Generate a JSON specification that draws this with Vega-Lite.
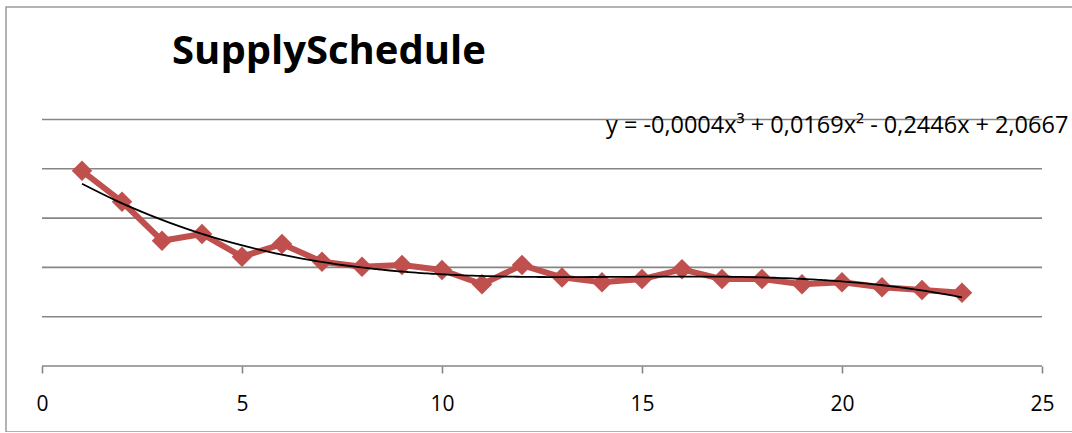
{
  "$schema": "https://vega.github.io/schema/vega-lite/v6.json",
  "width": 1070,
  "height": 425,
  "autosize": {"type": "none"},
  "padding": {"left": 6, "top": 7, "right": 0, "bottom": 0},
  "background": "white",
  "config": {
    "view": {"stroke": "#9a9a9a", "strokeWidth": 1.5},
    "axisY": {"disable": true}
  },
  "layer": [
    {
      "data": {"values": [{"level": 0}, {"level": 0.5}, {"level": 1}, {"level": 1.5}, {"level": 2}, {"level": 2.5}]},
      "mark": {"type": "rule", "color": "#868686", "strokeWidth": 1.6},
      "encoding": {
        "y": {"field": "level", "type": "quantitative", "scale": {"domain": [-0.669, 3.641], "nice": false, "zero": false}},
        "x": {"datum": 0, "type": "quantitative", "scale": {"domain": [-0.9, 25.85], "nice": false, "zero": false}},
        "x2": {"datum": 25}
      }
    },
    {
      "data": {"name": "main", "values": [
        {"x": 1, "y": 1.98},
        {"x": 2, "y": 1.666},
        {"x": 3, "y": 1.271},
        {"x": 4, "y": 1.339},
        {"x": 5, "y": 1.109},
        {"x": 6, "y": 1.237},
        {"x": 7, "y": 1.058},
        {"x": 8, "y": 1.007},
        {"x": 9, "y": 1.024},
        {"x": 10, "y": 0.974},
        {"x": 11, "y": 0.829},
        {"x": 12, "y": 1.024},
        {"x": 13, "y": 0.899},
        {"x": 14, "y": 0.849},
        {"x": 15, "y": 0.882},
        {"x": 16, "y": 0.981},
        {"x": 17, "y": 0.882},
        {"x": 18, "y": 0.882},
        {"x": 19, "y": 0.829},
        {"x": 20, "y": 0.849},
        {"x": 21, "y": 0.798},
        {"x": 22, "y": 0.771},
        {"x": 23, "y": 0.743}
      ]},
      "encoding": {
        "x": {
          "field": "x",
          "type": "quantitative",
          "axis": {
            "values": [0, 5, 10, 15, 20, 25],
            "title": null,
            "domain": false,
            "grid": false,
            "ticks": true,
            "tickSize": 7,
            "tickColor": "#868686",
            "tickWidth": 1.6,
            "offset": -66,
            "labelFont": "Open Sans",
            "labelFontSize": 21,
            "labelColor": "#000000",
            "labelPadding": 20,
            "labelFlush": false,
            "labelOverlap": false
          }
        },
        "y": {"field": "y", "type": "quantitative"}
      },
      "layer": [
        {"mark": {"type": "line", "color": "#C0504D", "strokeWidth": 6, "strokeJoin": "round"}},
        {"mark": {"type": "point", "shape": "diamond", "filled": true, "color": "#C0504D", "opacity": 1, "size": 420}},
        {
          "transform": [{"regression": "y", "on": "x", "method": "poly", "order": 3, "extent": [1, 23]}],
          "mark": {"type": "line", "color": "#000000", "strokeWidth": 1.8, "interpolate": "monotone"}
        }
      ]
    },
    {
      "data": {"values": [{"label": "SupplySchedule"}]},
      "mark": {"type": "text", "font": "Open Sans", "fontWeight": "bold", "fontSize": 40, "align": "center", "baseline": "alphabetic", "color": "#000000"},
      "encoding": {
        "x": {"datum": 7.175, "type": "quantitative"},
        "y": {"datum": 3.06, "type": "quantitative"},
        "text": {"field": "label"}
      }
    },
    {
      "data": {"values": [{"label": "y = -0,0004x³ + 0,0169x² - 0,2446x + 2,0667"}]},
      "mark": {"type": "text", "font": "Open Sans", "fontSize": 23.5, "align": "left", "baseline": "alphabetic", "color": "#000000"},
      "encoding": {
        "x": {"datum": 14.1, "type": "quantitative"},
        "y": {"datum": 2.363, "type": "quantitative"},
        "text": {"field": "label"}
      }
    }
  ]
}
